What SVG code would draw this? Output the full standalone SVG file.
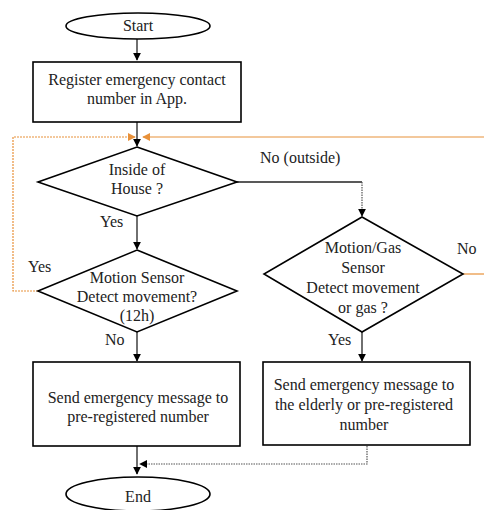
<svg xmlns="http://www.w3.org/2000/svg" width="484" height="510" viewBox="0 0 484 510">
<defs>
<style>
.n{fill:#fff;stroke:#000;stroke-width:1.6}
.t{font-family:"Liberation Serif","Times New Roman",serif;font-size:16px;fill:#222;text-anchor:middle}
.l{font-family:"Liberation Serif","Times New Roman",serif;font-size:16px;fill:#222}
.c{fill:none;stroke:#222;stroke-width:1.3}
.d{fill:none;stroke:#555;stroke-width:1.2;stroke-dasharray:1.5 1}
.o{fill:none;stroke:#e8913a;stroke-width:1.2}
.od{fill:none;stroke:#e8913a;stroke-width:1.2;stroke-dasharray:2 1}
</style>
<marker id="a" viewBox="0 0 10 10" refX="9" refY="5" markerWidth="8" markerHeight="8" markerUnits="userSpaceOnUse" orient="auto"><path d="M0,0L10,5L0,10z" fill="#000"/></marker>
<marker id="ao" viewBox="0 0 10 10" refX="9" refY="5" markerWidth="8" markerHeight="8" markerUnits="userSpaceOnUse" orient="auto"><path d="M0,0L10,5L0,10z" fill="#e8913a"/></marker>
</defs>
<rect width="484" height="510" fill="#fff"/>
<g id="connectors">
<path class="c" d="M137,39V60" marker-end="url(#a)"/>
<path class="c" d="M137,122V146" marker-end="url(#a)"/>
<path class="od" d="M38,291H13V137H135" marker-end="url(#ao)"/>
<path class="o" d="M484,137H143" marker-end="url(#ao)"/>
<path class="o" d="M463,274H484"/>
<path class="c" d="M237,182H362"/>
<path class="d" d="M362,182V216" marker-end="url(#a)"/>
<path class="c" d="M137,216V249" marker-end="url(#a)"/>
<path class="c" d="M137,332V361" marker-end="url(#a)"/>
<path class="c" d="M362,332V361" marker-end="url(#a)"/>
<path class="c" d="M137,446V474" marker-end="url(#a)"/>
<path class="d" d="M367,446V464H140" marker-end="url(#a)"/>
<text class="l" x="260" y="163">No (outside)</text>
<text class="l" x="100" y="227">Yes</text>
<text class="l" x="28" y="272">Yes</text>
<text class="l" x="457" y="254">No</text>
<text class="l" x="105" y="345">No</text>
<text class="l" x="328" y="345">Yes</text>
</g>
<g id="start">
<ellipse class="n" cx="138" cy="26" rx="72" ry="13"/>
<text class="t" x="138" y="31">Start</text>
</g>
<g id="register">
<rect class="n" x="33" y="62" width="208" height="60"/>
<text class="t" x="137" y="85">Register emergency contact</text>
<text class="t" x="137" y="104">number in App.</text>
</g>
<g id="inside">
<path class="n" d="M137,147L237,182L137,216L38,182Z"/>
<text class="t" x="137" y="175">Inside of</text>
<text class="t" x="137" y="194">House ?</text>
</g>
<g id="motion">
<path class="n" d="M137,250L237,291L137,332L38,291Z"/>
<text class="t" x="137" y="283">Motion Sensor</text>
<text class="t" x="137" y="302">Detect movement?</text>
<text class="t" x="137" y="321">(12h)</text>
</g>
<g id="motiongas">
<path class="n" d="M362,217L463,274L362,332L264,274Z"/>
<text class="t" x="363" y="253">Motion/Gas</text>
<text class="t" x="363" y="273">Sensor</text>
<text class="t" x="363" y="293">Detect movement</text>
<text class="t" x="363" y="313">or gas ?</text>
</g>
<g id="send1">
<rect class="n" x="33" y="362" width="207" height="84"/>
<text class="t" x="138" y="403">Send emergency message to</text>
<text class="t" x="138" y="422">pre-registered number</text>
</g>
<g id="send2">
<rect class="n" x="263" y="362" width="207" height="83"/>
<text class="t" x="364" y="390">Send emergency message to</text>
<text class="t" x="364" y="410">the elderly or pre-registered</text>
<text class="t" x="364" y="430">number</text>
</g>
<g id="end">
<ellipse class="n" cx="138" cy="494" rx="72" ry="17"/>
<text class="t" x="138" y="502">End</text>
</g>
</svg>
